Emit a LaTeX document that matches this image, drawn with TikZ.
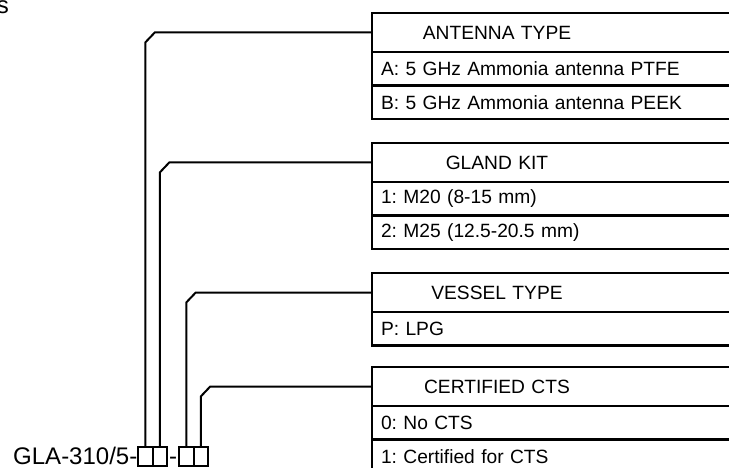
\documentclass[tikz,border=0pt]{standalone}
\usepackage{fontspec}
\setmainfont{Liberation Sans}
\usetikzlibrary{positioning,calc}
\frenchspacing

\tikzset{
  boxfont/.style={font=\fontsize{19.2}{22}\selectfont},
  hdr/.style={draw, line width=2.6pt, outer sep=0pt, anchor=north west,
    minimum height=39pt, text width=400pt, inner xsep=0pt, align=left, boxfont},
  opt/.style={draw, line width=2.6pt, outer sep=0pt, anchor=north west,
    minimum height=33.5pt, text width=391pt, inner xsep=9pt, align=left, boxfont},
  sq/.style={draw, line width=2pt, outer sep=0pt, inner sep=0pt,
    minimum width=14.5pt, minimum height=19pt},
  conn/.style={line width=2pt},
  codefont/.style={font=\fontsize{24}{28}\selectfont, inner sep=0pt}
}
\newcommand{\hd}[1]{\makebox[250pt]{#1}}

\begin{document}
\begin{tikzpicture}[x=1pt,y=-1pt]
  \useasboundingbox (0,0) rectangle (729,468);
  \clip (0,0) rectangle (729,468);
  \node[codefont, anchor=base east] (frag) at (9,14) {s};
  % option boxes
  \node[hdr] (antH) at (372,13) {\hd{ANTENNA TYPE}};
  \node[opt] (antA) at (antH.south west) {A: 5 GHz Ammonia antenna PTFE};
  \node[opt] (antB) at (antA.south west) {B: 5 GHz Ammonia antenna PEEK};
  \node[hdr] (glaH) at (372,143) {\hd{GLAND KIT}};
  \node[opt] (gla1) at (glaH.south west) {1: M20 (8-15 mm)};
  \node[opt] (gla2) at (gla1.south west) {2: M25 (12.5-20.5 mm)};
  \node[hdr] (vesH) at (372,273) {\hd{VESSEL TYPE}};
  \node[opt] (vesP) at (vesH.south west) {P: LPG};
  \node[hdr] (ctsH) at (372,367) {\hd{CERTIFIED CTS}};
  \node[opt] (cts0) at (ctsH.south west) {0: No CTS};
  \node[opt] (cts1) at (cts0.south west) {1: Certified for CTS};
  % code with the blank squares
  \node[sq, anchor=north west] (s1) at (138,447) {};
  \node[sq, right=0pt of s1] (s2) {};
  \node[sq, anchor=north west] (s3) at (179,447) {};
  \node[sq, right=0pt of s3] (s4) {};
  \node[codefont, anchor=base east] (code) at (137.5,464.5) {GLA-310/5-};
  \coordinate (gap) at ($(s2.east)!0.5!(s3.west)$);
  \node[codefont, anchor=base] (mid) at (gap |- code.base) {-};
  % connectors
  \foreach \h/\s in {antH/s1, glaH/s2, vesH/s3, ctsH/s4}{
    \draw[conn] (\h.west) -- ($(\s.north |- \h.west)+(9.5,0)$)
      -- ($(\s.north |- \h.west)+(0,10)$) -- (\s.north);
  }
\end{tikzpicture}
\end{document}
